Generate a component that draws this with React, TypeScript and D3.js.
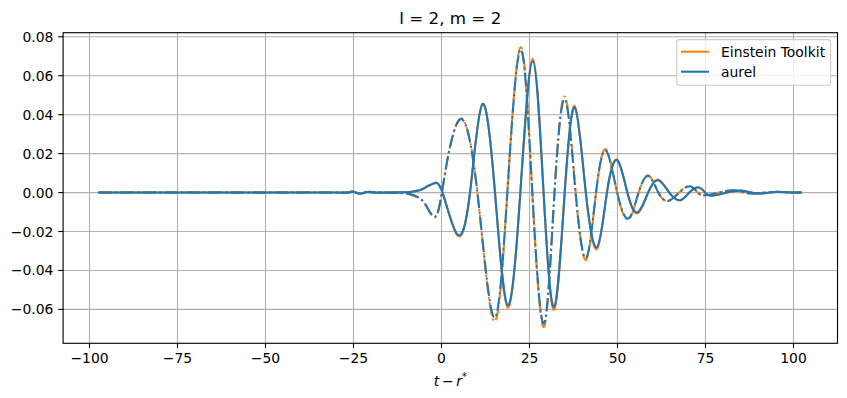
import React from "react";
import * as d3 from "d3";

// waveform samples (extrema + zero crossings)
const tSolid = [
  -97.5, -70, -45, -30, -26.5, -25.3, -24, -22.7, -21.3, -19.5, -16, -12, -9, -6, -4.3, -2.3,
  0.3, 4.5, 8.1, 11.6, 15.2, 18.8, 22.4, 25.9, 29.0, 32.0, 35.0, 37.9, 41.0, 44.2, 47.0, 49.9,
  52.8, 55.7, 58.7, 61.6, 64.7, 67.8, 70.4, 73.0, 74.9, 76.8, 81, 85, 88, 91, 95, 98.5, 102.3,
];
const aurelSolid = [
  0, 0, 0, 0, 0.0001, 0.0005, -0.0002, -0.0005, 0.0003, 0.0001, 0, 0.0001, 0.0003, 0.0013, 0.0029, 0.0046,
  0, -0.0214, 0, 0.0453, 0, -0.0578, 0, 0.0675, 0, -0.0587, 0, 0.0436, 0, -0.028, 0, 0.0166,
  0, -0.0102, 0, 0.0063, 0, -0.0039, 0, 0.0026, 0, -0.0016, 0, 0.001, 0, -0.0004, 0.0003, 0.0001, 0,
];
const etSolid = [
  0, 0, 0, 0, 0.0001, 0.0005, -0.0002, -0.0005, 0.0003, 0.0001, 0, 0.0001, 0.0003, 0.0013, 0.003, 0.0047,
  0, -0.022, 0, 0.0456, 0, -0.059, 0, 0.0688, 0, -0.0602, 0, 0.0443, 0, -0.029, 0, 0.017,
  0, -0.0106, 0, 0.0066, 0, -0.004, 0, 0.0027, 0, -0.0016, 0, 0.001, 0, -0.0004, 0.0003, 0.0001, 0,
];

const tDash = [
  -97.5, -70, -45, -30, -26.5, -25.3, -24.2, -23, -21.5, -19.5, -16, -12, -9, -6.3, -4.2, -1.7,
  0.1, 1.5, 2.9, 6.0, 10.2, 14.9, 18.7, 22.5, 25.8, 29.1, 32.1, 35.1, 38.1, 41.1, 43.9, 46.7,
  49.9, 53.1, 56.0, 58.8, 61.6, 64.4, 67.5, 70.6, 72.8, 74.9, 78.9, 82.8, 86, 89, 93, 97, 100, 102.3,
];
const aurelDash = [
  0, 0, 0, 0, -0.0001, 0.0004, 0.0001, -0.0007, 0.0002, 0.0003, 0, -0.0002, -0.0008, -0.0028, -0.0072, -0.0122,
  0, 0.015, 0.027, 0.0374, 0, -0.0641, 0, 0.0735, 0, -0.0672, 0, 0.0478, 0, -0.0335, 0, 0.0215,
  0, -0.0133, 0, 0.0085, 0, -0.0043, 0, 0.0032, 0, -0.0014, 0, 0.0012, 0, -0.0005, 0.0002, 0.0003, 0, 0,
];
const etDash = [
  0, 0, 0, 0, -0.0001, 0.0004, 0.0001, -0.0007, 0.0002, 0.0003, 0, -0.0002, -0.0008, -0.0028, -0.0073, -0.0125,
  0, 0.0152, 0.0273, 0.0378, 0, -0.066, 0, 0.0748, 0, -0.069, 0, 0.0492, 0, -0.0345, 0, 0.0222,
  0, -0.0138, 0, 0.0088, 0, -0.0044, 0, 0.0033, 0, -0.0014, 0, 0.0012, 0, -0.0005, 0.0002, 0.0003, 0, 0,
];

const xTicks = [-100, -75, -50, -25, 0, 25, 50, 75, 100];
const yTicks = [-0.06, -0.04, -0.02, 0, 0.02, 0.04, 0.06, 0.08];

const W = 847, H = 398;
const left = 63.1, right = 837.5, top = 32.7, bottom = 343.3;
const font = "DejaVu Sans";
const orange = "#ff7f0e", blue = "#1f77b4";
const lw = 2.08;
const dashDot = "13.3,3.33,2.08,3.33";

export default function App() {
  const x = d3.scaleLinear().domain([-107.5, 112.5]).range([left, right]);
  const y = d3.scaleLinear().domain([-0.0774, 0.0821]).range([bottom, top]);
  const line = d3
    .line<[number, number]>()
    .x((d) => x(d[0]))
    .y((d) => y(d[1]))
    .curve(d3.curveNatural);
  const path = (ts: number[], vs: number[]) => line(ts.map((t, i) => [t, vs[i]] as [number, number])) || "";
  const minus = (s: string) => s.replace("-", "\u2212");

  return (
    <svg width={W} height={H} style={{ position: "absolute", left: 0, top: 0 }} fontFamily={font}>
      <rect width={W} height={H} fill="white" />
      <defs>
        <clipPath id="plot">
          <rect x={left} y={top} width={right - left} height={bottom - top} />
        </clipPath>
      </defs>
      {/* grid */}
      {xTicks.map((t) => (
        <line key={"gx" + t} x1={x(t)} x2={x(t)} y1={top} y2={bottom} stroke="#b0b0b0" strokeWidth={1.11} />
      ))}
      {yTicks.map((t) => (
        <line key={"gy" + t} x1={left} x2={right} y1={y(t)} y2={y(t)} stroke="#b0b0b0" strokeWidth={1.11} />
      ))}
      {/* curves */}
      <g clipPath="url(#plot)" fill="none" strokeWidth={lw}>
        <path d={path(tSolid, etSolid)} stroke={orange} />
        <path d={path(tDash, etDash)} stroke={orange} strokeDasharray={dashDot} />
        <path d={path(tSolid, aurelSolid)} stroke={blue} />
        <path d={path(tDash, aurelDash)} stroke={blue} strokeDasharray={dashDot} />
      </g>
      {/* spines */}
      <rect x={left} y={top} width={right - left} height={bottom - top} fill="none" stroke="black" strokeWidth={1.11} />
      {/* x ticks */}
      {xTicks.map((t) => (
        <g key={"xt" + t}>
          <line x1={x(t)} x2={x(t)} y1={bottom} y2={bottom + 4.86} stroke="black" strokeWidth={1.11} />
          <text x={x(t)} y={bottom + 20} fontSize={13.9} textAnchor="middle">
            {minus(String(t))}
          </text>
        </g>
      ))}
      {/* y ticks */}
      {yTicks.map((t) => (
        <g key={"yt" + t}>
          <line x1={left - 4.86} x2={left} y1={y(t)} y2={y(t)} stroke="black" strokeWidth={1.11} />
          <text x={left - 9.7} y={y(t) + 5} fontSize={13.9} textAnchor="end">
            {minus(d3.format(".2f")(t))}
          </text>
        </g>
      ))}
      {/* title */}
      <text x={(left + right) / 2} y={24.4} fontSize={16.7} textAnchor="middle">
        l = 2, m = 2
      </text>
      {/* x label */}
      <text x={(left + right) / 2} y={386} fontSize={13.9} textAnchor="middle">
        <tspan fontStyle="italic">t</tspan>
        <tspan>{"\u2009\u2212\u2009"}</tspan>
        <tspan fontStyle="italic">r</tspan>
        <tspan fontSize={9.7} dy={-6}>*</tspan>
      </text>
      {/* legend */}
      <g>
        <rect x={676.7} y={39.6} width={153.9} height={45.6} rx={2.8} fill="white" fillOpacity={0.8} stroke="#cccccc" strokeWidth={1.11} />
        <line x1={681} x2={709} y1={51.7} y2={51.7} stroke={orange} strokeWidth={lw} />
        <text x={721} y={56.7} fontSize={13.9}>Einstein Toolkit</text>
        <line x1={681} x2={709} y1={71.7} y2={71.7} stroke={blue} strokeWidth={lw} />
        <text x={721} y={76.7} fontSize={13.9}>aurel</text>
      </g>
    </svg>
  );
}
